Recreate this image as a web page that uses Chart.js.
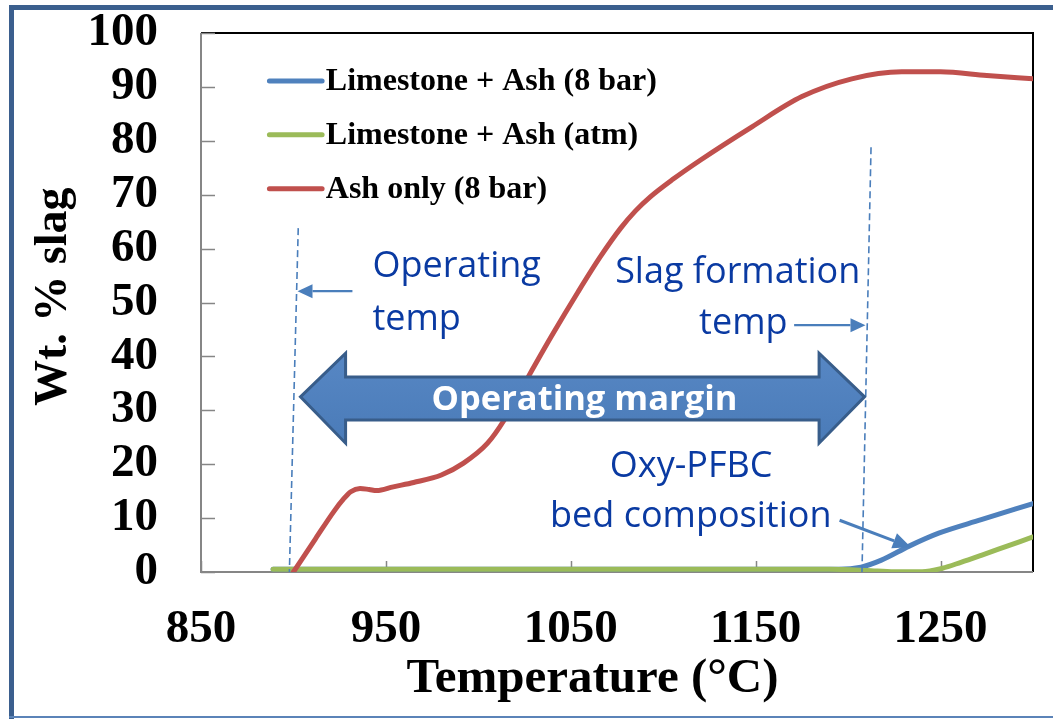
<!DOCTYPE html>
<html>
<head>
<meta charset="utf-8">
<script src="https://cdn.jsdelivr.net/npm/chart.js@4.4.0/dist/chart.umd.min.js"></script>
<style>
html,body{margin:0;padding:0;background:#fff;}
canvas{display:block;}
</style>
</head>
<body>
<canvas id="c" width="1053" height="719"></canvas>
<script>
// ---------- data ----------
const seriesNames = ['Limestone + Ash (8 bar)', 'Limestone + Ash (atm)', 'Ash only (8 bar)'];

const blueTemps = [889, 1000, 1100, 1195, 1207, 1218, 1233, 1249, 1272, 1300];
const blueVals  = [0.5, 0.5, 0.5, 0.5, 0.9, 2.2, 4.8, 7.2, 9.7, 12.7];

const greenTemps = [889, 1000, 1100, 1190, 1210, 1225, 1240, 1251, 1261, 1272, 1286, 1300];
const greenVals  = [0.5, 0.5, 0.5, 0.5, 0.3, 0.05, 0.05, 0.7, 1.8, 3.1, 4.8, 6.5];

const redTemps = [900, 912, 922, 927, 931, 936, 941, 945, 954, 965, 980, 992, 1005, 1014, 1027, 1040, 1054, 1066, 1077, 1085, 1093, 1105, 1120, 1148, 1175, 1202, 1229, 1250, 1275, 1300];
const redVals  = [0, 6.2, 11.3, 13.5, 14.9, 15.5, 15.3, 15.1, 15.8, 16.6, 18.0, 20.2, 23.9, 28.2, 36.2, 44, 52, 58.5, 63.8, 67, 69.6, 72.8, 76.4, 82.6, 88.2, 91.5, 92.8, 92.8, 92.1, 91.5];

const xTickValues = [850, 950, 1050, 1150, 1250];
const yTickValues = [0, 10, 20, 30, 40, 50, 60, 70, 80, 90, 100];

// ---------- styles ----------
const COLORS = { blue: '#4f81bd', green: '#9bbb59', red: '#c0504d' };
const SERIF = '"Liberation Serif", "Times New Roman", serif';
const SANS = '"Open Sans", "Noto Sans", sans-serif';
const NOTE = '#0a3aa2';
const NOTE_LINE = '#4a7ebb';

function pts(xs, ys) { return xs.map((x, i) => ({ x: x, y: ys[i] })); }

// annotation anchors (in data units: temperature, wt %)
const notes = {
  leftDash: [[902.6, 63.8], [897.8, 0]],
  rightDash: [[1212.4, 78.8], [1207.5, 0]],
  opTempArrow: [[931.9, 52.1], [902.2, 52.1]],
  slagArrow: [[1170.8, 45.8], [1209.4, 45.8]],
  bedArrow: [[1195.4, 9.6], [1234.0, 4.6]],
  bigArrow: { left: 903.8, right: 1208.9, leftBack: 928.2, rightBack: 1184.3, mid: 32.5, shaftTop: 36.2, shaftBot: 28.2, headTop: 40.6, headBot: 23.9 }
};

const bgPlugin = {
  id: 'bgFrame',
  beforeDraw(chart) {
    const ctx = chart.ctx;
    ctx.save();
    ctx.fillStyle = '#fff';
    ctx.fillRect(0, 0, chart.width, chart.height);
    ctx.fillStyle = '#3b5f8e';
    ctx.fillRect(9, 5, chart.width - 9, 5);
    ctx.fillRect(9, 5, 5, chart.height - 5);
    ctx.fillStyle = '#5b83b8';
    ctx.fillRect(9, 716, chart.width - 9, 2);
    ctx.restore();
  }
};

const axesPlugin = {
  id: 'plotFrame',
  beforeDatasetsDraw(chart) {
    const { ctx, chartArea: a, scales: { x, y } } = chart;
    ctx.save();
    ctx.lineCap = 'butt';
    ctx.strokeStyle = '#000';
    ctx.lineWidth = 2;
    ctx.beginPath();
    ctx.moveTo(a.left, a.top);
    ctx.lineTo(a.right, a.top);
    ctx.lineTo(a.right, a.bottom);
    ctx.stroke();
    ctx.strokeStyle = '#868686';
    ctx.lineWidth = 2;
    ctx.beginPath();
    ctx.moveTo(a.left, a.top);
    ctx.lineTo(a.left, a.bottom);
    ctx.lineTo(a.right, a.bottom);
    ctx.stroke();
    ctx.lineWidth = 1.5;
    ctx.beginPath();
    yTickValues.forEach(v => {
      const p = Math.round(y.getPixelForValue(v)) + 0.5;
      ctx.moveTo(a.left, p);
      ctx.lineTo(a.left + 14, p);
    });
    xTickValues.forEach(v => {
      const p = Math.round(x.getPixelForValue(v)) + 0.5;
      ctx.moveTo(p, a.bottom);
      ctx.lineTo(p, a.bottom - 11);
    });
    ctx.stroke();
    ctx.restore();
  }
};

function arrowLine(ctx, x1, y1, x2, y2, headLen, headHalf, color, lw) {
  const ang = Math.atan2(y2 - y1, x2 - x1);
  const bx = x2 - headLen * Math.cos(ang), by = y2 - headLen * Math.sin(ang);
  ctx.strokeStyle = color;
  ctx.lineWidth = lw;
  ctx.beginPath();
  ctx.moveTo(x1, y1);
  ctx.lineTo(bx, by);
  ctx.stroke();
  ctx.fillStyle = color;
  ctx.beginPath();
  ctx.moveTo(x2, y2);
  ctx.lineTo(bx + headHalf * Math.sin(ang), by - headHalf * Math.cos(ang));
  ctx.lineTo(bx - headHalf * Math.sin(ang), by + headHalf * Math.cos(ang));
  ctx.closePath();
  ctx.fill();
}

const notesPlugin = {
  id: 'notes',
  afterDatasetsDraw(chart) {
    const { ctx, scales: { x, y } } = chart;
    const X = t => x.getPixelForValue(t), Y = v => y.getPixelForValue(v);
    ctx.save();
    ctx.strokeStyle = NOTE_LINE;
    ctx.lineWidth = 1.6;
    ctx.setLineDash([7, 4]);
    [notes.leftDash, notes.rightDash].forEach(l => {
      ctx.beginPath();
      ctx.moveTo(X(l[0][0]), Y(l[0][1]));
      ctx.lineTo(X(l[1][0]), Y(l[1][1]));
      ctx.stroke();
    });
    ctx.setLineDash([]);
    [notes.opTempArrow, notes.slagArrow].forEach(l => {
      arrowLine(ctx, X(l[0][0]), Y(l[0][1]), X(l[1][0]), Y(l[1][1]), 15, 7, NOTE_LINE, 2.2);
    });
    const b = notes.bedArrow;
    arrowLine(ctx, X(b[0][0]), Y(b[0][1]), X(b[1][0]), Y(b[1][1]), 18, 8, NOTE_LINE, 3);

    const g = notes.bigArrow;
    const L = X(g.left), R = X(g.right), Lb = X(g.leftBack), Rb = X(g.rightBack);
    const ym = Y(g.mid), st = Y(g.shaftTop), sb = Y(g.shaftBot), ht = Y(g.headTop), hb = Y(g.headBot);
    ctx.beginPath();
    ctx.moveTo(L, ym);
    ctx.lineTo(Lb, ht);
    ctx.lineTo(Lb, st);
    ctx.lineTo(Rb, st);
    ctx.lineTo(Rb, ht);
    ctx.lineTo(R, ym);
    ctx.lineTo(Rb, hb);
    ctx.lineTo(Rb, sb);
    ctx.lineTo(Lb, sb);
    ctx.lineTo(Lb, hb);
    ctx.closePath();
    const grad = ctx.createLinearGradient(0, ht, 0, hb);
    grad.addColorStop(0, '#5787c4');
    grad.addColorStop(1, '#4a7bb8');
    ctx.fillStyle = grad;
    ctx.fill();
    ctx.strokeStyle = '#385d8a';
    ctx.lineWidth = 3;
    ctx.lineJoin = 'miter';
    ctx.stroke();

    ctx.textBaseline = 'alphabetic';
    ctx.fillStyle = '#ffffff';
    ctx.font = 'bold 34.5px ' + SANS;
    ctx.textAlign = 'center';
    ctx.fillText('Operating margin', X(1057.4), Y(30.1));

    ctx.fillStyle = NOTE;
    ctx.font = '36px ' + SANS;
    ctx.textAlign = 'left';
    ctx.fillText('Operating', X(942.7), Y(54.7));
    ctx.fillText('temp', X(942.7), Y(44.9));
    ctx.textAlign = 'center';
    ctx.fillText('Slag formation', X(1140.3), Y(53.6));
    ctx.fillText('temp', X(1143.3), Y(44.2));
    ctx.fillText('Oxy-PFBC', X(1115.1), Y(17.6));
    ctx.fillText('bed composition', X(1114.9), Y(8.3));

    const legendColors = [COLORS.blue, COLORS.green, COLORS.red];
    const rows = [91.1, 81.1, 71.1];
    ctx.font = 'bold 32px ' + SERIF;
    ctx.textAlign = 'left';
    ctx.textBaseline = 'middle';
    seriesNames.forEach((name, i) => {
      const yy = Y(rows[i]);
      ctx.strokeStyle = legendColors[i];
      ctx.lineWidth = 5;
      ctx.lineCap = 'round';
      ctx.beginPath();
      ctx.moveTo(X(887.0), yy);
      ctx.lineTo(X(915.5), yy);
      ctx.stroke();
      ctx.fillStyle = '#000';
      ctx.fillText(name, X(917.5), yy + 1);
    });
    ctx.restore();
  }
};

const lineStyle = {
  borderWidth: 5,
  pointRadius: 0,
  pointHoverRadius: 0,
  fill: false,
  cubicInterpolationMode: 'monotone',
  borderCapStyle: 'round',
  borderJoinStyle: 'round'
};

new Chart(document.getElementById('c'), {
  type: 'line',
  data: {
    datasets: [
      Object.assign({ label: seriesNames[2], data: pts(redTemps, redVals), borderColor: COLORS.red }, lineStyle),
      Object.assign({ label: seriesNames[1], data: pts(greenTemps, greenVals), borderColor: COLORS.green }, lineStyle),
      Object.assign({ label: seriesNames[0], data: pts(blueTemps, blueVals), borderColor: COLORS.blue }, lineStyle)
    ]
  },
  options: {
    responsive: false,
    animation: false,
    events: [],
    layout: { padding: { top: 33, right: 20, left: 0, bottom: 0 } },
    plugins: { legend: { display: false }, tooltip: { enabled: false } },
    scales: {
      x: {
        type: 'linear',
        min: 850,
        max: 1300,
        afterBuildTicks: s => { s.ticks = xTickValues.map(v => ({ value: v })); },
        afterFit: s => { s.height = 147; s.paddingLeft = 0; s.paddingRight = 0; s.paddingTop = 0; s.paddingBottom = 0; },
        grid: { display: false, drawTicks: false },
        border: { display: false },
        ticks: {
          autoSkip: false,
          maxRotation: 0,
          padding: 29.5,
          color: '#000',
          callback: v => String(v),
          font: { family: SERIF, size: 47, weight: 'bold' }
        },
        title: {
          display: true,
          text: 'Temperature (°C)    ',
          color: '#000',
          font: { family: SERIF, size: 49, weight: 'bold' },
          padding: { top: 0, bottom: 10.6 }
        }
      },
      y: {
        min: 0,
        max: 100,
        afterBuildTicks: s => { s.ticks = yTickValues.map(v => ({ value: v })); },
        afterFit: s => { s.width = 201; s.paddingTop = 0; s.paddingBottom = 0; s.paddingLeft = 0; s.paddingRight = 0; },
        grid: { display: false, drawTicks: false },
        border: { display: false },
        ticks: {
          autoSkip: false,
          padding: 43,
          color: '#000',
          callback: v => String(v),
          font: { family: SERIF, size: 47, weight: 'bold' }
        },
        title: {
          display: true,
          text: ' Wt. % slag',
          color: '#000',
          font: { family: SERIF, size: 46, weight: 'bold' },
          padding: { top: 27, bottom: 0 }
        }
      }
    }
  },
  plugins: [bgPlugin, axesPlugin, notesPlugin]
});
</script>
</body>
</html>
